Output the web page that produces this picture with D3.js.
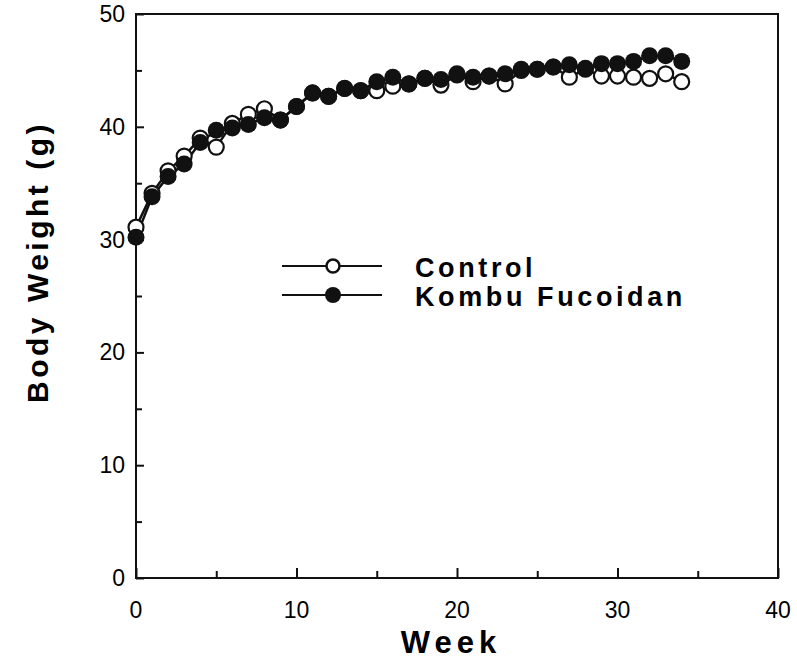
<!DOCTYPE html>
<html>
<head>
<meta charset="utf-8">
<script src="https://cdn.jsdelivr.net/npm/d3@7"></script>
<style>
  body { margin: 0; background: #fff; }
  svg { font-family: 'Liberation Sans', Arial, sans-serif; }
</style>
</head>
<body>
<svg width="797" height="663"></svg>
<script>
// Data
const weeks = d3.range(0, 35);
const control = [31.1, 34.1, 36.1, 37.4, 39.0, 38.2, 40.3, 41.1, 41.6, 40.6,
  41.8, 43.0, 42.7, 43.4, 43.2, 43.2, 43.6, 43.8, 44.3, 43.7,
  44.6, 44.0, 44.5, 43.8, 45.0, 45.1, 45.3, 44.4, 45.1, 44.5,
  44.5, 44.4, 44.3, 44.7, 44.0];
const kombu = [30.2, 33.8, 35.6, 36.7, 38.6, 39.7, 39.9, 40.2, 40.8, 40.6,
  41.8, 43.0, 42.7, 43.4, 43.2, 44.0, 44.4, 43.8, 44.3, 44.2,
  44.7, 44.4, 44.5, 44.7, 45.1, 45.1, 45.3, 45.5, 45.2, 45.6,
  45.6, 45.8, 46.3, 46.3, 45.8];
const xTicks = [0, 10, 20, 30, 40];
const yTicks = [0, 10, 20, 30, 40, 50];
const seriesNames = ['Control', 'Kombu Fucoidan'];

const svg = d3.select('svg');
const margin = { top: 14, right: 19, bottom: 85, left: 136 };
const width = 797 - margin.left - margin.right;
const height = 663 - margin.top - margin.bottom;

const g = svg.append('g')
  .attr('transform', 'translate(' + margin.left + ',' + margin.top + ')');

const x = d3.scaleLinear().domain([0, 40]).range([0, width]);
const y = d3.scaleLinear().domain([0, 50]).range([height, 0]);

// Frame
g.append('rect')
  .attr('width', width)
  .attr('height', height)
  .attr('fill', 'none')
  .attr('stroke', '#111')
  .attr('stroke-width', 2);

// Ticks point inward, minor ones at the fives
g.append('g')
  .attr('transform', 'translate(0,' + height + ')')
  .call(d3.axisTop(x).tickValues(d3.range(5, 40, 10)).tickSize(7).tickFormat(''));
g.append('g')
  .attr('transform', 'translate(0,' + height + ')')
  .call(d3.axisTop(x).tickValues(xTicks).tickSize(10).tickFormat(''));
g.append('g')
  .call(d3.axisRight(y).tickValues(d3.range(5, 50, 10)).tickSize(6).tickFormat(''));
g.append('g')
  .call(d3.axisRight(y).tickValues(yTicks).tickSize(8).tickFormat(''));

g.selectAll('.domain').remove();
g.selectAll('.tick line').attr('stroke', '#111').attr('stroke-width', 2);

// Tick labels
g.selectAll('.xlab')
  .data(xTicks)
  .enter()
  .append('text')
  .attr('x', (d) => x(d))
  .attr('y', height + 40)
  .attr('text-anchor', 'middle')
  .attr('font-size', 23)
  .text((d) => d);

g.selectAll('.ylab')
  .data(yTicks)
  .enter()
  .append('text')
  .attr('x', -11)
  .attr('y', (d) => y(d) + 8)
  .attr('text-anchor', 'end')
  .attr('font-size', 23)
  .text((d) => d);

// Axis titles
svg.append('text')
  .attr('x', 451)
  .attr('y', 653)
  .attr('text-anchor', 'middle')
  .attr('font-size', 31)
  .attr('font-weight', 'bold')
  .attr('letter-spacing', 5)
  .text('Week');

svg.append('text')
  .attr('transform', 'translate(48,262) rotate(-90)')
  .attr('text-anchor', 'middle')
  .attr('font-size', 30)
  .attr('font-weight', 'bold')
  .attr('letter-spacing', 3.5)
  .text('Body Weight (g)');

// Lines
const line = d3.line()
  .x((d, i) => x(weeks[i]))
  .y((d) => y(d));

[control, kombu].forEach((s) => {
  g.append('path')
    .datum(s)
    .attr('fill', 'none')
    .attr('stroke', '#111')
    .attr('stroke-width', 2.5)
    .attr('d', line);
});

// Markers: control (open) first, kombu (filled) on top
g.selectAll('.ctrl')
  .data(control)
  .enter()
  .append('circle')
  .attr('cx', (d, i) => x(weeks[i]))
  .attr('cy', (d) => y(d))
  .attr('r', 7.5)
  .attr('fill', '#fff')
  .attr('stroke', '#111')
  .attr('stroke-width', 2.2);

g.selectAll('.kombu')
  .data(kombu)
  .enter()
  .append('circle')
  .attr('cx', (d, i) => x(weeks[i]))
  .attr('cy', (d) => y(d))
  .attr('r', 8.5)
  .attr('fill', '#111');

// Legend
const legend = svg.append('g');
seriesNames.forEach((name, i) => {
  const ly = 266 + i * 29;
  legend.append('line')
    .attr('x1', 282).attr('x2', 382)
    .attr('y1', ly).attr('y2', ly)
    .attr('stroke', '#111')
    .attr('stroke-width', 2);
  legend.append('circle')
    .attr('cx', 333).attr('cy', ly)
    .attr('r', i === 0 ? 6.5 : 8)
    .attr('fill', i === 0 ? '#fff' : '#111')
    .attr('stroke', '#111')
    .attr('stroke-width', i === 0 ? 2.5 : 0);
  legend.append('text')
    .attr('x', 415)
    .attr('y', ly + 11)
    .attr('font-size', 27)
    .attr('font-weight', 'bold')
    .attr('letter-spacing', 3.6)
    .text(name);
});
</script>
</body>
</html>
